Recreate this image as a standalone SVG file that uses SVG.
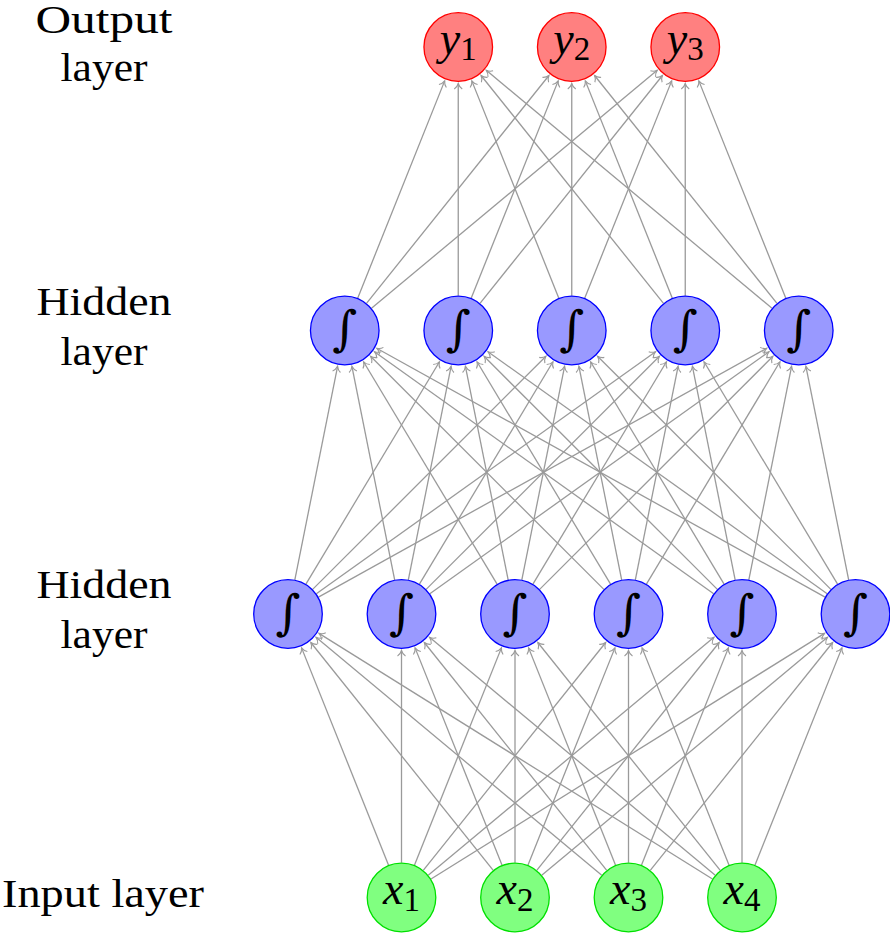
<svg xmlns="http://www.w3.org/2000/svg" width="890" height="934" viewBox="0 0 890 934">
<style>
.ed{stroke:#9a9a9a;stroke-width:1.3;fill:none;marker-end:url(#arr)}
.out circle{fill:#ff8080;stroke:#ff0000;stroke-width:1.3}
.hid circle{fill:#9999ff;stroke:#0000ff;stroke-width:1.3}
.inp circle{fill:#80ff80;stroke:#00e000;stroke-width:1.3}
.lbl{font-size:40px;fill:#000;text-anchor:middle}
.m{font-size:46px;fill:#000;text-anchor:middle}
.m .v{font-style:italic}
.m .s{font-size:33px}
.int{font-size:48px;fill:#000;text-anchor:middle}
</style>
<defs>
<marker id="arr" markerUnits="userSpaceOnUse" orient="auto" refX="0" refY="0" markerWidth="12" markerHeight="12" overflow="visible">
<path d="M-5.5,-4 C-4,-1.5 -1,-0.3 0,0 C-1,0.3 -4,1.5 -5.5,4" fill="none" stroke="#9a9a9a" stroke-width="1.1"/>
</marker>
<line id="e0" class="ed" x1="0" y1="-34.8" x2="0" y2="-247"/>
<line id="p1" class="ed" x1="6.83" y1="-34.12" x2="49.59" y2="-247.71"/>
<line id="p2" class="ed" x1="12.93" y1="-32.31" x2="99.93" y2="-249.62"/>
<line id="p3" class="ed" x1="17.92" y1="-29.83" x2="151.46" y2="-252.21"/>
<line id="p4" class="ed" x1="21.75" y1="-27.16" x2="204.19" y2="-255.01"/>
<line id="p5" class="ed" x1="24.62" y1="-24.60" x2="257.93" y2="-257.70"/>
<line id="p6" class="ed" x1="26.74" y1="-22.27" x2="312.45" y2="-260.15"/>
<line id="p7" class="ed" x1="28.33" y1="-20.22" x2="367.54" y2="-262.30"/>
<line id="p8" class="ed" x1="29.52" y1="-18.43" x2="423.04" y2="-264.17"/>
<line id="p9" class="ed" x1="30.43" y1="-16.89" x2="478.84" y2="-265.79"/>
<line id="m1" class="ed" x1="-6.83" y1="-34.12" x2="-49.59" y2="-247.71"/>
<line id="m2" class="ed" x1="-12.93" y1="-32.31" x2="-99.93" y2="-249.62"/>
<line id="m3" class="ed" x1="-17.92" y1="-29.83" x2="-151.46" y2="-252.21"/>
<line id="m4" class="ed" x1="-21.75" y1="-27.16" x2="-204.19" y2="-255.01"/>
<line id="m5" class="ed" x1="-24.62" y1="-24.60" x2="-257.93" y2="-257.70"/>
<line id="m6" class="ed" x1="-26.74" y1="-22.27" x2="-312.45" y2="-260.15"/>
<line id="m7" class="ed" x1="-28.33" y1="-20.22" x2="-367.54" y2="-262.30"/>
<line id="m8" class="ed" x1="-29.52" y1="-18.43" x2="-423.04" y2="-264.17"/>
<line id="m9" class="ed" x1="-30.43" y1="-16.89" x2="-478.84" y2="-265.79"/>
</defs>

<g id="connectors">
<use href="#m2" x="401.5" y="897.5"/><use href="#e0" x="401.5" y="897.5"/><use href="#p2" x="401.5" y="897.5"/><use href="#p4" x="401.5" y="897.5"/><use href="#p6" x="401.5" y="897.5"/><use href="#p8" x="401.5" y="897.5"/>
<use href="#m4" x="515" y="897.5"/><use href="#m2" x="515" y="897.5"/><use href="#e0" x="515" y="897.5"/><use href="#p2" x="515" y="897.5"/><use href="#p4" x="515" y="897.5"/><use href="#p6" x="515" y="897.5"/>
<use href="#m6" x="628.5" y="897.5"/><use href="#m4" x="628.5" y="897.5"/><use href="#m2" x="628.5" y="897.5"/><use href="#e0" x="628.5" y="897.5"/><use href="#p2" x="628.5" y="897.5"/><use href="#p4" x="628.5" y="897.5"/>
<use href="#m8" x="742" y="897.5"/><use href="#m6" x="742" y="897.5"/><use href="#m4" x="742" y="897.5"/><use href="#m2" x="742" y="897.5"/><use href="#e0" x="742" y="897.5"/><use href="#p2" x="742" y="897.5"/>
<use href="#p1" x="288" y="614"/><use href="#p3" x="288" y="614"/><use href="#p5" x="288" y="614"/><use href="#p7" x="288" y="614"/><use href="#p9" x="288" y="614"/>
<use href="#m1" x="401.5" y="614"/><use href="#p1" x="401.5" y="614"/><use href="#p3" x="401.5" y="614"/><use href="#p5" x="401.5" y="614"/><use href="#p7" x="401.5" y="614"/>
<use href="#m3" x="515" y="614"/><use href="#m1" x="515" y="614"/><use href="#p1" x="515" y="614"/><use href="#p3" x="515" y="614"/><use href="#p5" x="515" y="614"/>
<use href="#m5" x="628.5" y="614"/><use href="#m3" x="628.5" y="614"/><use href="#m1" x="628.5" y="614"/><use href="#p1" x="628.5" y="614"/><use href="#p3" x="628.5" y="614"/>
<use href="#m7" x="742" y="614"/><use href="#m5" x="742" y="614"/><use href="#m3" x="742" y="614"/><use href="#m1" x="742" y="614"/><use href="#p1" x="742" y="614"/>
<use href="#m9" x="855.5" y="614"/><use href="#m7" x="855.5" y="614"/><use href="#m5" x="855.5" y="614"/><use href="#m3" x="855.5" y="614"/><use href="#m1" x="855.5" y="614"/>
<use href="#p2" x="344.75" y="330.5"/><use href="#p4" x="344.75" y="330.5"/><use href="#p6" x="344.75" y="330.5"/>
<use href="#e0" x="458.25" y="330.5"/><use href="#p2" x="458.25" y="330.5"/><use href="#p4" x="458.25" y="330.5"/>
<use href="#m2" x="571.75" y="330.5"/><use href="#e0" x="571.75" y="330.5"/><use href="#p2" x="571.75" y="330.5"/>
<use href="#m4" x="685.25" y="330.5"/><use href="#m2" x="685.25" y="330.5"/><use href="#e0" x="685.25" y="330.5"/>
<use href="#m6" x="798.75" y="330.5"/><use href="#m4" x="798.75" y="330.5"/><use href="#m2" x="798.75" y="330.5"/>
</g>

<g id="labels" font-family="Liberation Serif, Times New Roman, serif">
<text class="lbl" x="104" y="33" textLength="137" lengthAdjust="spacingAndGlyphs">Output</text>
<text class="lbl" x="104" y="81" textLength="87" lengthAdjust="spacingAndGlyphs">layer</text>
<text class="lbl" x="104" y="314.5" textLength="135" lengthAdjust="spacingAndGlyphs">Hidden</text>
<text class="lbl" x="104" y="364.5" textLength="87" lengthAdjust="spacingAndGlyphs">layer</text>
<text class="lbl" x="104" y="598" textLength="135" lengthAdjust="spacingAndGlyphs">Hidden</text>
<text class="lbl" x="104" y="648" textLength="87" lengthAdjust="spacingAndGlyphs">layer</text>
<text class="lbl" x="103" y="907" textLength="202" lengthAdjust="spacingAndGlyphs">Input layer</text>
</g>

<g id="y1" class="out" font-family="Liberation Serif, Times New Roman, serif"><circle cx="458.25" cy="47" r="34.3"/><text class="m" x="458.25" y="53.5"><tspan class="v">y</tspan><tspan class="s" dy="6.5">1</tspan></text></g>
<g id="y2" class="out" font-family="Liberation Serif, Times New Roman, serif"><circle cx="571.75" cy="47" r="34.3"/><text class="m" x="571.75" y="53.5"><tspan class="v">y</tspan><tspan class="s" dy="6.5">2</tspan></text></g>
<g id="y3" class="out" font-family="Liberation Serif, Times New Roman, serif"><circle cx="685.25" cy="47" r="34.3"/><text class="m" x="685.25" y="53.5"><tspan class="v">y</tspan><tspan class="s" dy="6.5">3</tspan></text></g>

<g id="h2-1" class="hid" font-family="DejaVu Serif, serif"><circle cx="344.75" cy="330.5" r="34.3"/><text class="int" x="344.75" y="345">∫</text></g>
<g id="h2-2" class="hid" font-family="DejaVu Serif, serif"><circle cx="458.25" cy="330.5" r="34.3"/><text class="int" x="458.25" y="345">∫</text></g>
<g id="h2-3" class="hid" font-family="DejaVu Serif, serif"><circle cx="571.75" cy="330.5" r="34.3"/><text class="int" x="571.75" y="345">∫</text></g>
<g id="h2-4" class="hid" font-family="DejaVu Serif, serif"><circle cx="685.25" cy="330.5" r="34.3"/><text class="int" x="685.25" y="345">∫</text></g>
<g id="h2-5" class="hid" font-family="DejaVu Serif, serif"><circle cx="798.75" cy="330.5" r="34.3"/><text class="int" x="798.75" y="345">∫</text></g>

<g id="h1-1" class="hid" font-family="DejaVu Serif, serif"><circle cx="288" cy="614" r="34.3"/><text class="int" x="288" y="628.5">∫</text></g>
<g id="h1-2" class="hid" font-family="DejaVu Serif, serif"><circle cx="401.5" cy="614" r="34.3"/><text class="int" x="401.5" y="628.5">∫</text></g>
<g id="h1-3" class="hid" font-family="DejaVu Serif, serif"><circle cx="515" cy="614" r="34.3"/><text class="int" x="515" y="628.5">∫</text></g>
<g id="h1-4" class="hid" font-family="DejaVu Serif, serif"><circle cx="628.5" cy="614" r="34.3"/><text class="int" x="628.5" y="628.5">∫</text></g>
<g id="h1-5" class="hid" font-family="DejaVu Serif, serif"><circle cx="742" cy="614" r="34.3"/><text class="int" x="742" y="628.5">∫</text></g>
<g id="h1-6" class="hid" font-family="DejaVu Serif, serif"><circle cx="855.5" cy="614" r="34.3"/><text class="int" x="855.5" y="628.5">∫</text></g>

<g id="x1" class="inp" font-family="Liberation Serif, Times New Roman, serif"><circle cx="401.5" cy="897.5" r="34.3"/><text class="m" x="401.5" y="904"><tspan class="v">x</tspan><tspan class="s" dy="6.5">1</tspan></text></g>
<g id="x2" class="inp" font-family="Liberation Serif, Times New Roman, serif"><circle cx="515" cy="897.5" r="34.3"/><text class="m" x="515" y="904"><tspan class="v">x</tspan><tspan class="s" dy="6.5">2</tspan></text></g>
<g id="x3" class="inp" font-family="Liberation Serif, Times New Roman, serif"><circle cx="628.5" cy="897.5" r="34.3"/><text class="m" x="628.5" y="904"><tspan class="v">x</tspan><tspan class="s" dy="6.5">3</tspan></text></g>
<g id="x4" class="inp" font-family="Liberation Serif, Times New Roman, serif"><circle cx="742" cy="897.5" r="34.3"/><text class="m" x="742" y="904"><tspan class="v">x</tspan><tspan class="s" dy="6.5">4</tspan></text></g>
</svg>
